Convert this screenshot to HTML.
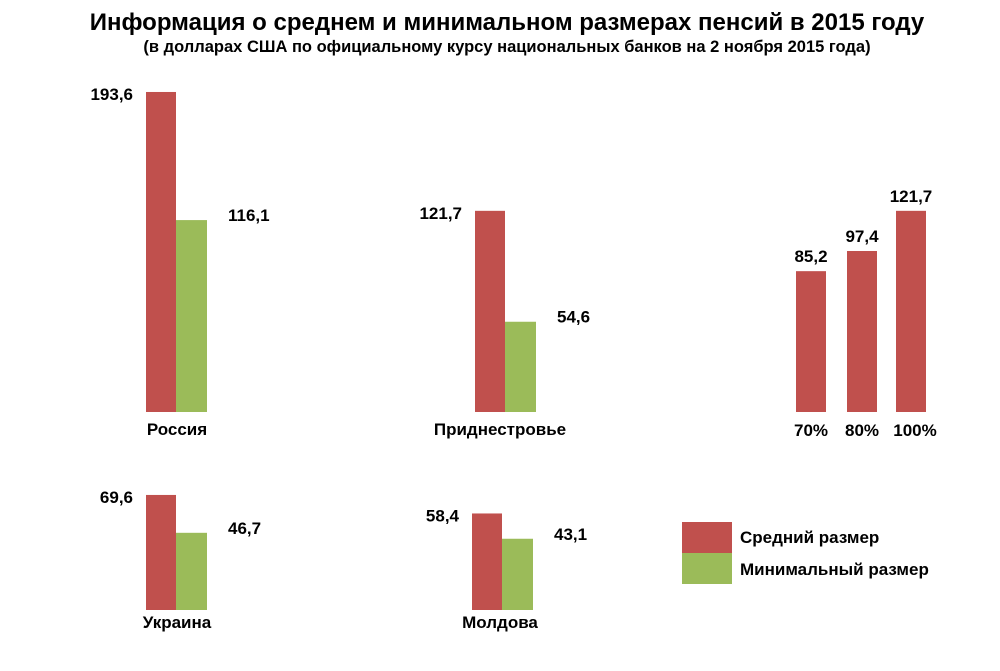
<!DOCTYPE html>
<html><head><meta charset="utf-8"><style>
body{margin:0;background:#fff;}
svg text{font-family:"Liberation Sans",sans-serif;font-weight:bold;fill:#000;}
</style></head><body>
<svg width="1000" height="666" viewBox="0 0 1000 666">
<text x="507" y="30" font-size="24" text-anchor="middle">Информация о среднем и минимальном размерах пенсий в 2015 году</text>
<text x="507" y="52" font-size="16.5" text-anchor="middle">(в долларах США по официальному курсу национальных банков на 2 ноября 2015 года)</text>
<g id="bars"></g>
<rect x="682" y="522" width="50" height="31" fill="#c0504d"/>
<rect x="682" y="553" width="50" height="31" fill="#9bbb59"/>
<text x="740" y="543" font-size="17">Средний размер</text>
<text x="740" y="575" font-size="17">Минимальный размер</text>
</svg>
<script>
const countries=["Россия","Приднестровье","Украина","Молдова"];
const avgValues=[193.6,121.7,69.6,58.4];
const minValues=[116.1,54.6,46.7,43.1];
const pctLabels=["70%","80%","100%"];
const pctValues=[85.2,97.4,121.7];
const scale=1.653;
const layout=[{x:146,base:412,lx:177,ly:435},{x:475,base:412,lx:500,ly:435},{x:146,base:610,lx:177,ly:628},{x:472,base:610,lx:500,ly:628}];
const g=document.getElementById('bars');
const NS="http://www.w3.org/2000/svg";
function h(v){return v*scale;}
function rect(x,y,w,hh,fill,name){const r=document.createElementNS(NS,'rect');r.setAttribute('x',x);r.setAttribute('y',y);r.setAttribute('width',w);r.setAttribute('height',hh);r.setAttribute('fill',fill);


g.appendChild(r);}
function txt(x,y,s,size,anchor,name){const t=document.createElementNS(NS,'text');t.setAttribute('x',x);t.setAttribute('y',y);t.setAttribute('font-size',size);t.setAttribute('text-anchor',anchor);t.textContent=s;


g.appendChild(t);}
function fmt(v){return v.toFixed(1).replace('.',',');}
countries.forEach((c,i)=>{const L=layout[i];
 const ha=h(avgValues[i]),hm=h(minValues[i]);
 rect(L.x,L.base-ha,30,ha,'#c0504d','bar-average');
 rect(L.x+30,L.base-hm,31,hm,'#9bbb59','bar-minimum');
 txt(L.x-13,L.base-ha+8,fmt(avgValues[i]),17,'end','value-label-average');
 txt(L.x+82,L.base-hm+1,fmt(minValues[i]),17,'start','value-label-minimum');
 txt(L.lx,L.ly,c,17,'middle','category-label');
});
const px=[796,847,896];
pctValues.forEach((v,i)=>{const hh=h(v);
 rect(px[i],412-hh,30,hh,'#c0504d','bar-percent');
 txt(px[i]+15,412-hh-9,fmt(v),17,'middle','value-label-percent');
 txt(px[i]+15+(i==2?4:0),436,pctLabels[i],17,'middle','percent-label');
});
</script>
</body></html>
